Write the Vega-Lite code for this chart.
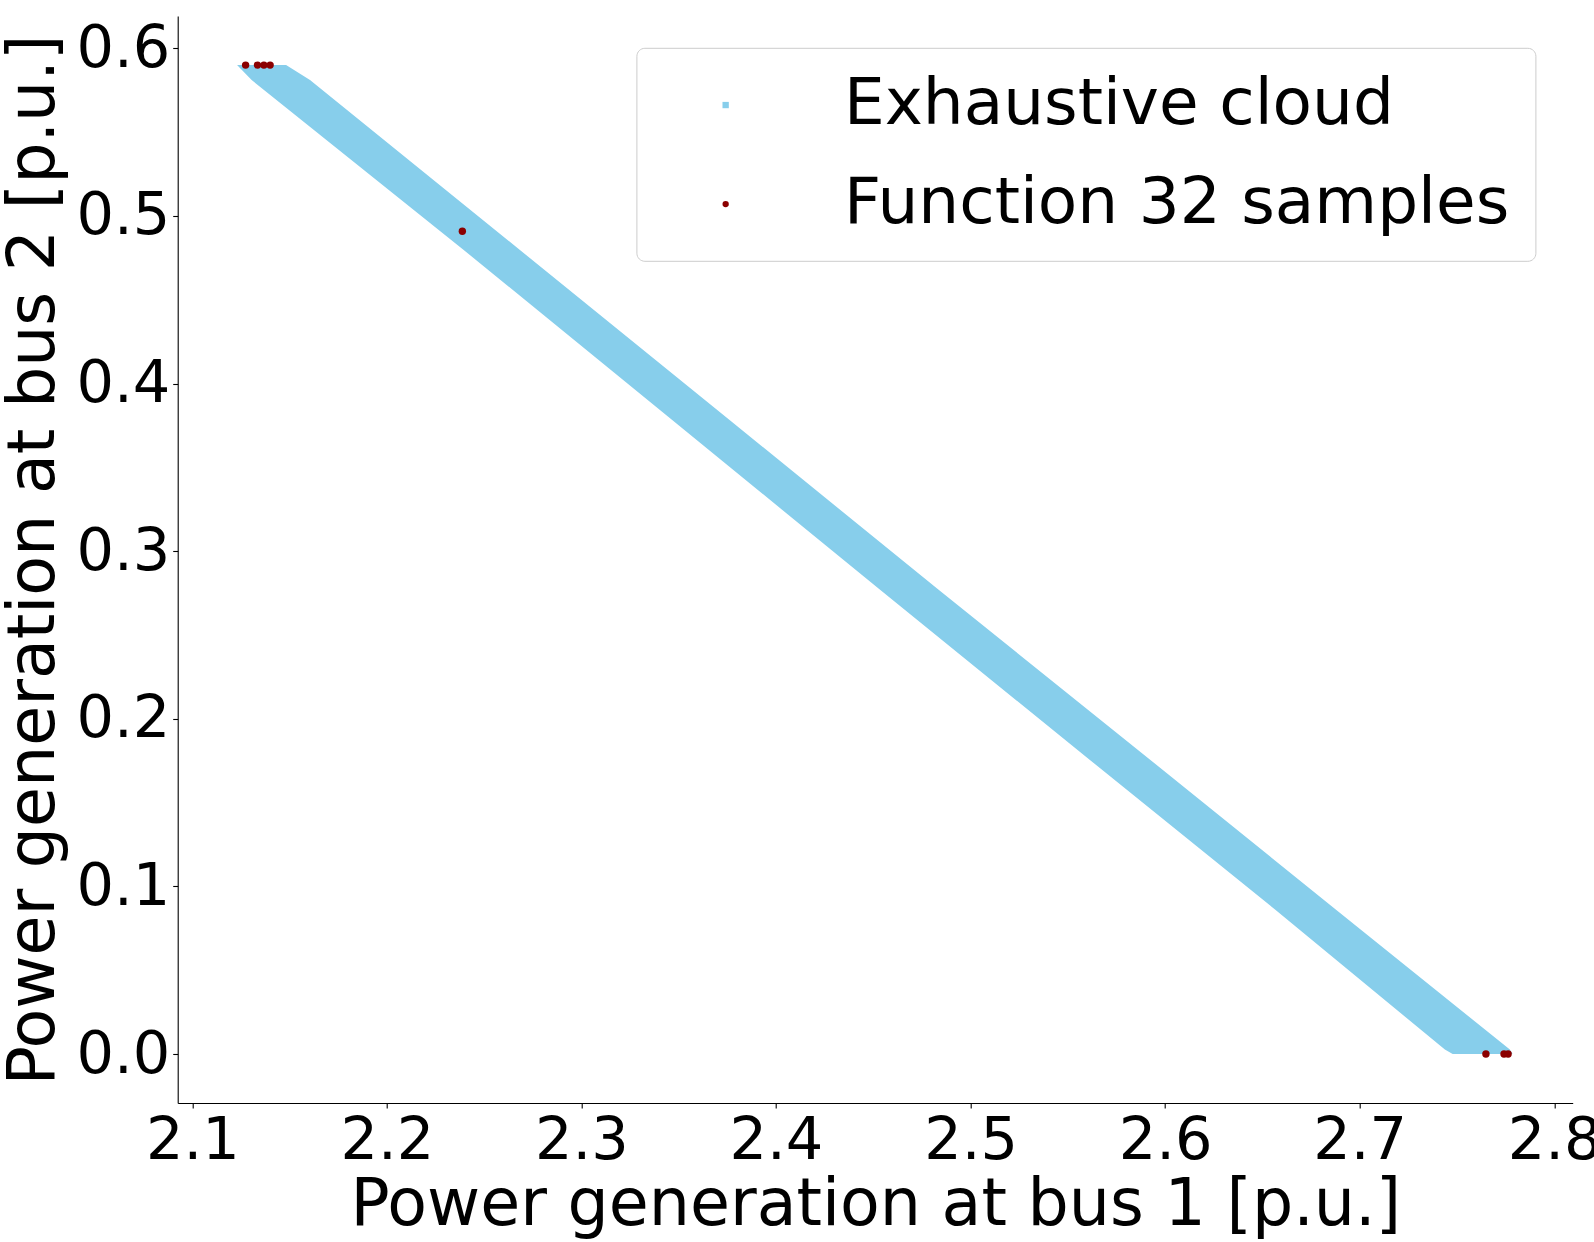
{
  "$schema": "https://vega.github.io/schema/vega-lite/v6.json",
  "width": 1395,
  "height": 1087,
  "autosize": "none",
  "padding": {"left": 177.7, "top": 16, "right": 21.3, "bottom": 138.7},
  "background": "white",
  "config": {
    "view": {"stroke": null},
    "font": "DejaVu Sans",
    "axis": {
      "grid": false,
      "domainColor": "#000000",
      "domainWidth": 1.1,
      "tickColor": "#000000",
      "tickWidth": 1.1,
      "tickSize": 5,
      "labelFont": "DejaVu Sans",
      "labelFontSize": 59,
      "labelColor": "#000000",
      "titleFont": "DejaVu Sans",
      "titleFontSize": 65,
      "titleFontWeight": "normal",
      "titleColor": "#000000",
      "labelOverlap": false,
      "labelFlush": false
    },
    "axisX": {"labelPadding": 4, "titleY": 121.7, "titleBaseline": "alphabetic"},
    "axisY": {"labelPadding": 3, "titleX": -124.7, "titleBaseline": "alphabetic"}
  },
  "datasets": {
    "cloud": [
      {"p2": 0.59, "p1_low": 2.1230, "p1_high": 2.1482},
      {"p2": 0.5811, "p1_low": 2.1305, "p1_high": 2.1605},
      {"p2": 0.4797, "p1_low": 2.2395, "p1_high": 2.2684},
      {"p2": 0.3784, "p1_low": 2.3465, "p1_high": 2.3760},
      {"p2": 0.2770, "p1_low": 2.4535, "p1_high": 2.4836},
      {"p2": 0.1756, "p1_low": 2.5612, "p1_high": 2.5923},
      {"p2": 0.0862, "p1_low": 2.6565, "p1_high": 2.6877},
      {"p2": 0.0027, "p1_low": 2.7438, "p1_high": 2.7772},
      {"p2": 0.0, "p1_low": 2.7478, "p1_high": 2.7786}
    ],
    "samples": [
      {"series": "Function 32 samples", "p1": 2.1274, "p2": 0.59},
      {"series": "Function 32 samples", "p1": 2.1335, "p2": 0.59},
      {"series": "Function 32 samples", "p1": 2.1368, "p2": 0.59},
      {"series": "Function 32 samples", "p1": 2.1400, "p2": 0.59},
      {"series": "Function 32 samples", "p1": 2.2388, "p2": 0.4909},
      {"series": "Function 32 samples", "p1": 2.7649, "p2": 0.0},
      {"series": "Function 32 samples", "p1": 2.7742, "p2": 0.0},
      {"series": "Function 32 samples", "p1": 2.7763, "p2": 0.0}
    ]
  },
  "layer": [
    {
      "data": {"name": "cloud"},
      "mark": {"type": "area", "orient": "horizontal", "color": "#87ceeb", "opacity": 1},
      "encoding": {
        "y": {
          "field": "p2",
          "type": "quantitative",
          "title": "Power generation at bus 2 [p.u.]",
          "scale": {"domain": [-0.0292, 0.6193], "nice": false, "zero": false},
          "axis": {"values": [0, 0.1, 0.2, 0.3, 0.4, 0.5, 0.6], "format": ".1f"}
        },
        "x": {
          "field": "p1_low",
          "type": "quantitative",
          "title": "Power generation at bus 1 [p.u.]",
          "scale": {"domain": [2.0925, 2.8095], "nice": false, "zero": false},
          "axis": {"values": [2.1, 2.2, 2.3, 2.4, 2.5, 2.6, 2.7, 2.8], "format": ".1f"}
        },
        "x2": {"field": "p1_high"}
      }
    },
    {
      "data": {"name": "samples"},
      "mark": {"type": "point", "filled": true, "size": 55, "opacity": 1},
      "encoding": {
        "x": {"field": "p1", "type": "quantitative", "title": "Power generation at bus 1 [p.u.]"},
        "y": {"field": "p2", "type": "quantitative", "title": "Power generation at bus 2 [p.u.]"},
        "color": {
          "field": "series",
          "type": "nominal",
          "scale": {"domain": ["Exhaustive cloud", "Function 32 samples"], "range": ["#87ceeb", "#8b0000"]},
          "legend": {
            "orient": "none",
            "legendX": 458.7,
            "legendY": 31.8,
            "title": null,
            "labelFont": "DejaVu Sans",
            "labelFontSize": 64.5,
            "labelColor": "#000000",
            "labelLimit": 2000,
            "symbolSize": 40,
            "symbolStrokeWidth": 0,
            "strokeColor": "#cccccc",
            "fillColor": "#ffffff",
            "cornerRadius": 8,
            "padding": 25,
            "rowPadding": 34,
            "labelOffset": 86,
            "symbolOffset": 32
          }
        },
        "shape": {
          "field": "series",
          "type": "nominal",
          "scale": {"domain": ["Exhaustive cloud", "Function 32 samples"], "range": ["square", "circle"]}
        }
      }
    }
  ]
}
